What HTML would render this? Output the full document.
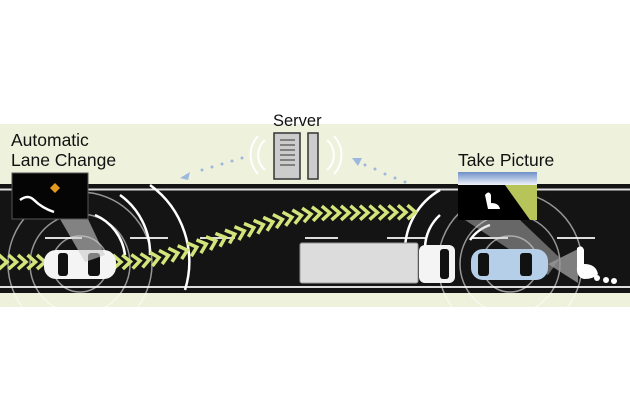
<!DOCTYPE html><html><head><meta charset="utf-8"><style>body{margin:0;background:#fff}svg{display:block}text{font-family:"Liberation Sans",sans-serif;fill:#111}</style></head><body>
<svg width="630" height="420" viewBox="0 0 630 420" xmlns="http://www.w3.org/2000/svg">
<rect x="0" y="124" width="630" height="183" fill="#eef1dc"/>
<rect x="0" y="184" width="630" height="109" fill="#141414"/>
<rect x="0" y="188.5" width="630" height="2" fill="#ddd"/>
<rect x="0" y="286" width="630" height="2" fill="#ddd"/>
<g stroke="#ddd" stroke-width="2">
<line x1="45" y1="238" x2="82" y2="238"/><line x1="130" y1="238" x2="168" y2="238"/><line x1="200" y1="238" x2="235" y2="238"/><line x1="305" y1="238" x2="338" y2="238"/><line x1="387" y1="238" x2="425" y2="238"/><line x1="472" y1="238" x2="508" y2="238"/><line x1="557" y1="238" x2="595" y2="238"/>
</g>
<g fill="none" stroke="#fff" stroke-opacity="0.55" stroke-width="1.5">
<circle cx="80" cy="264" r="28"/><circle cx="80" cy="264" r="50"/><circle cx="80" cy="264" r="72"/>
<circle cx="510" cy="264" r="28"/><circle cx="510" cy="264" r="50"/><circle cx="510" cy="264" r="72"/>
</g>
<g fill="none" stroke="#fff" stroke-width="2.5">
<path d="M95 215 A50 50 0 0 1 125 255"/><path d="M120 195 A72 72 0 0 1 150 255"/>
<path d="M150 185 A95 95 0 0 1 185 290"/>
<path d="M440 215 A45 45 0 0 0 425 248"/><path d="M440 190 A70 70 0 0 0 405 250"/><path d="M470 240 A40 40 0 0 1 490 225"/>
</g>
<g id="chev" fill="none" stroke="#d2e47a" stroke-width="3.5" stroke-linejoin="miter"></g>
<rect x="44" y="250" width="72" height="29" rx="12" fill="#f4f4f4"/>
<rect x="58" y="253" width="10" height="23" rx="3" fill="#111"/><rect x="88" y="253" width="12" height="23" rx="3" fill="#111"/>
<polygon points="60,219 88,219 105,255 85,262" fill="#ccc" opacity="0.6"/>
<rect x="12" y="173" width="76" height="46" fill="#050505" stroke="#555"/>
<path d="M20 200 q8 -6 14 0 q8 8 20 12" stroke="#fff" stroke-width="2.5" fill="none"/>
<polygon points="50,188 55,183 60,188 55,193" fill="#e39a1d"/>
<rect x="300" y="243" width="118" height="40" rx="2" fill="#dcdcdc" stroke="#999"/>
<rect x="419" y="245" width="36" height="38" rx="6" fill="#f4f4f4"/>
<rect x="440" y="249" width="9" height="30" rx="3" fill="#111"/>
<polygon points="465,220 520,220 560,258 548,275" fill="#ccc" opacity="0.45"/>
<rect x="471" y="249" width="77" height="31" rx="12" fill="#b6cfe8"/>
<rect x="478" y="253" width="11" height="23" rx="3" fill="#111"/><rect x="520" y="253" width="12" height="23" rx="3" fill="#111"/>
<polygon points="548,264 578,249 578,283" fill="#999" opacity="0.8"/>
<g fill="#fff"><path d="M577 248 q5 -4 7 2 v14 q12 0 14 10 q-4 5 -14 5 q-8 -2 -7 -12 z"/><circle cx="597" cy="278" r="3"/><circle cx="606" cy="280" r="3"/><circle cx="614" cy="281" r="3"/></g>
<defs><linearGradient id="sky" x1="0" y1="0" x2="0" y2="1"><stop offset="0" stop-color="#6e8fc8"/><stop offset="1" stop-color="#f0f3fa"/></linearGradient></defs>
<rect x="458" y="172" width="79" height="48" fill="#000"/>
<rect x="458" y="172" width="79" height="13" fill="url(#sky)"/>
<polygon points="505,185 537,185 537,220 530,220" fill="#b6c45a"/>
<path d="M485 195 q4 -5 6 0 v8 q8 0 9 6 h-12 z" fill="#fff"/>
<rect x="274" y="133" width="26" height="46" fill="#ccc" stroke="#333" stroke-width="1.5"/>
<rect x="308" y="133" width="10" height="46" fill="#ccc" stroke="#333" stroke-width="1.5"/>
<g stroke="#333" stroke-width="1"><line x1="280" y1="140" x2="295" y2="140"/><line x1="280" y1="145" x2="295" y2="145"/><line x1="280" y1="150" x2="295" y2="150"/><line x1="280" y1="155" x2="295" y2="155"/><line x1="280" y1="160" x2="295" y2="160"/><line x1="280" y1="165" x2="295" y2="165"/></g>
<g fill="none" stroke="#fff" stroke-width="2"><path d="M265 140 a20 20 0 0 0 0 30"/><path d="M258 136 a28 28 0 0 0 0 38"/><path d="M327 140 a20 20 0 0 1 0 30"/><path d="M334 136 a28 28 0 0 1 0 38"/></g>
<g fill="#9db8dc"><circle cx="242" cy="158" r="1.5"/><circle cx="232" cy="161" r="1.5"/><circle cx="222" cy="164" r="1.5"/><circle cx="212" cy="167" r="1.5"/><circle cx="202" cy="170" r="1.5"/><polygon points="180,178 190,172 188,180"/>
<circle cx="405" cy="182" r="1.5"/><circle cx="395" cy="178" r="1.5"/><circle cx="385" cy="174" r="1.5"/><circle cx="375" cy="169" r="1.5"/><circle cx="365" cy="165" r="1.5"/><polygon points="352,158 362,158 358,166"/></g>
<text x="273" y="126" font-size="16.5">Server</text>
<text x="11" y="146" font-size="17.5">Automatic</text>
<text x="11" y="166" font-size="17.5">Lane Change</text>
<text x="458" y="166" font-size="17.5">Take Picture</text>
</svg>
<script>
var g=document.getElementById('chev'),s='';
function y(x){if(x<120)return 262;if(x>330)return 213+(x-330)*(-0.01);var t=(x-120)/210;return 262-49*(t*t*(3-2*t));}
for(var x=3;x<412;x+=9.5){var a=Math.atan2(y(x+1)-y(x),1)*180/Math.PI;s+='<polyline points="-4,-7 4,0 -4,7" transform="translate('+x+','+y(x)+') rotate('+a+')"/>';}
g.innerHTML=s;
</script>
</body></html>
